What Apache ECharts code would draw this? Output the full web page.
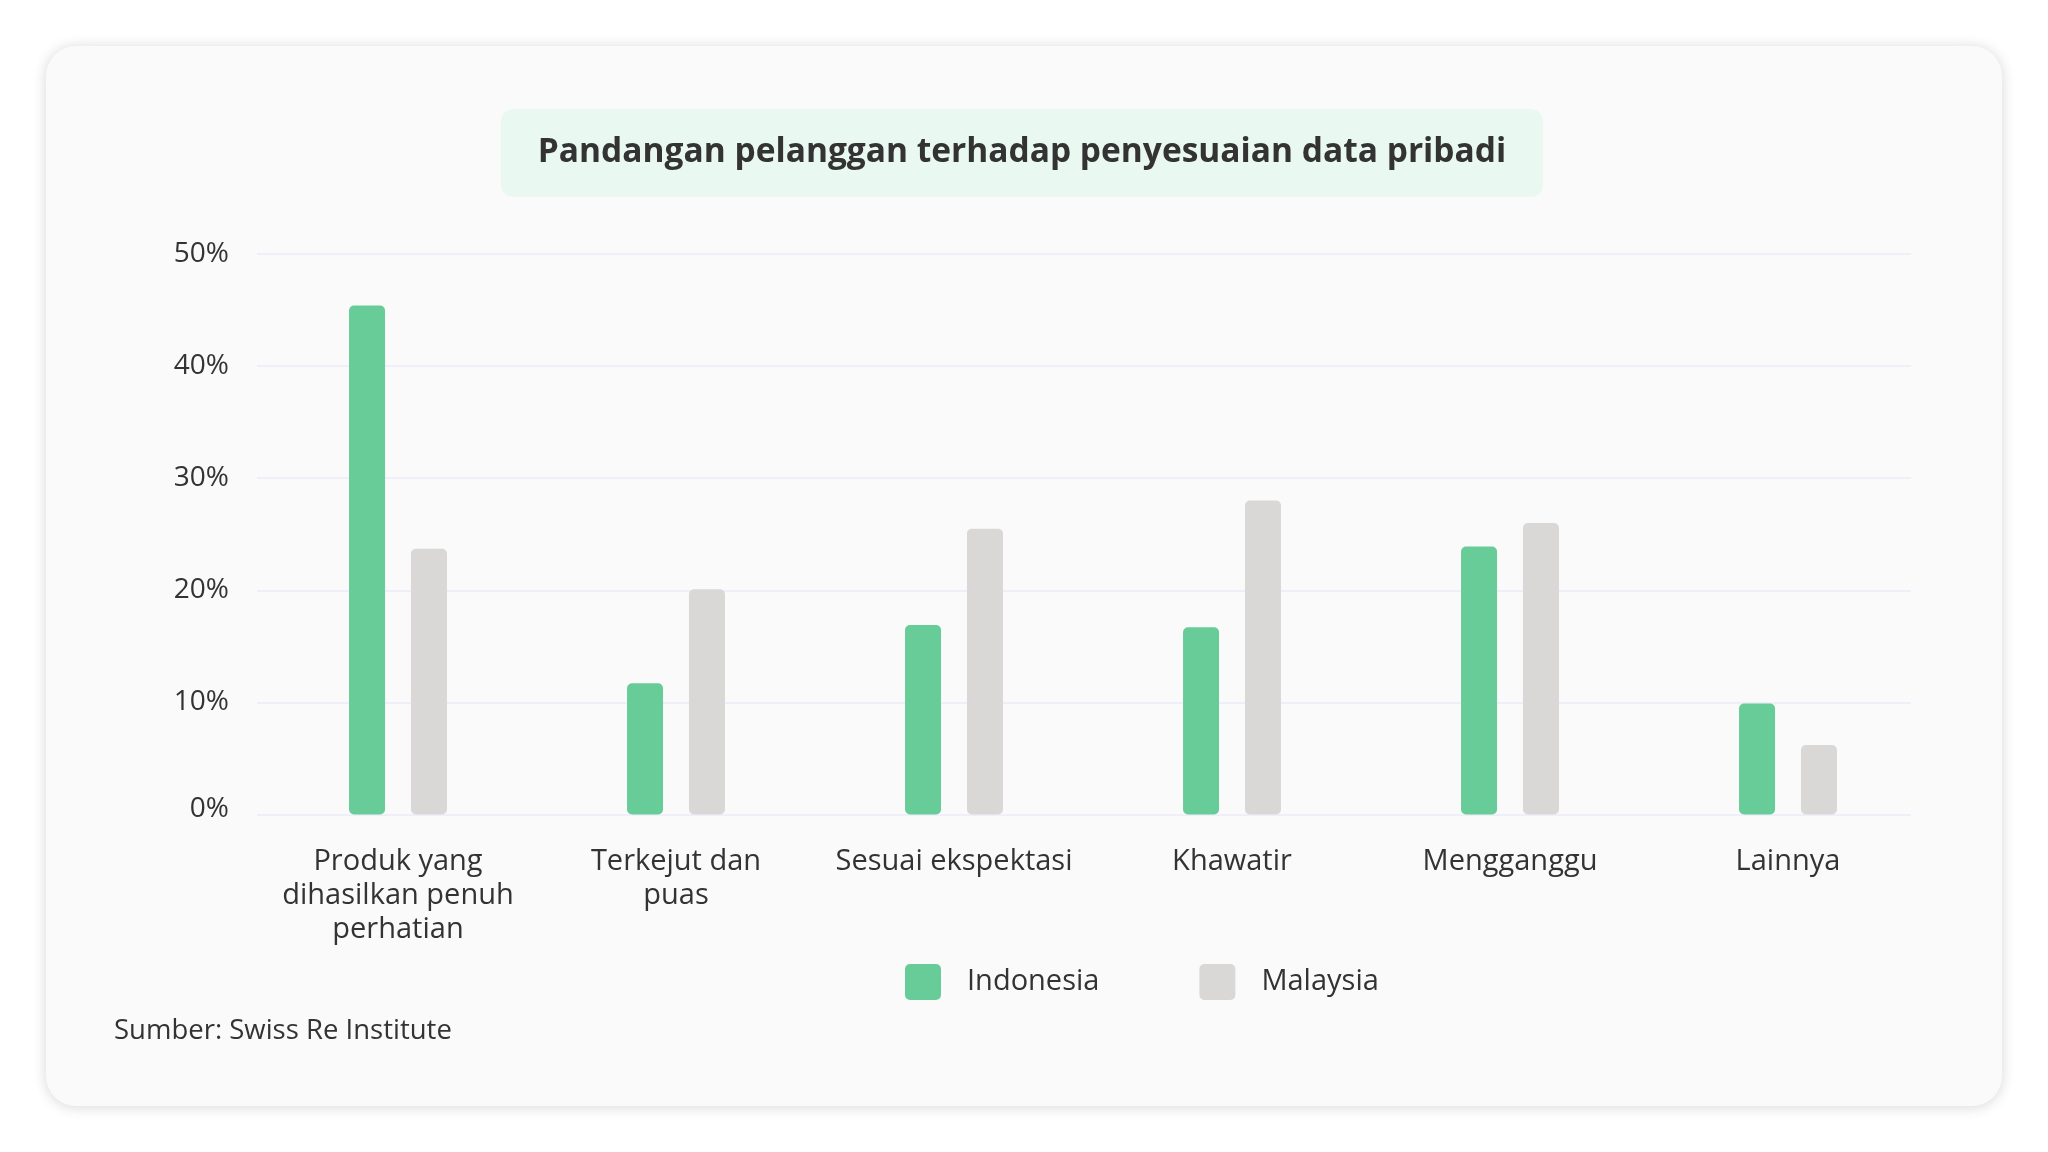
<!DOCTYPE html>
<html>
<head>
<meta charset="utf-8">
<script src="https://cdn.jsdelivr.net/npm/echarts@6/dist/echarts.min.js"></script>
<style>
  html, body { margin: 0; padding: 0; background: #ffffff; }
  #chart { width: 2048px; height: 1152px; }
</style>
</head>
<body>
<div id="chart"></div>
<script>
const titleText = 'Pandangan pelanggan terhadap penyesuaian data pribadi';
const sourceText = 'Sumber: Swiss Re Institute';
const categories = ['Produk yang\ndihasilkan penuh\nperhatian', 'Terkejut dan\npuas', 'Sesuai ekspektasi', 'Khawatir', 'Mengganggu', 'Lainnya'];
const seriesNames = ['Indonesia', 'Malaysia'];
const indonesia = [45.4, 11.7, 16.9, 16.7, 23.9, 9.9];
const malaysia = [23.7, 20.1, 25.5, 28.0, 26.0, 6.2];
const yTicks = [0, 10, 20, 30, 40, 50];

const FONT = '"Open Sans", "Noto Sans", sans-serif';
const TXT = '#333333';
const rr = 'path://M5,0H31A5,5,0,0,1,36,5V31A5,5,0,0,1,31,36H5A5,5,0,0,1,0,31V5A5,5,0,0,1,5,0Z';

const chart = echarts.init(document.getElementById('chart'), null, { renderer: 'canvas' });
const option = {
  backgroundColor: '#ffffff',
  animation: false,
  textStyle: { fontFamily: FONT },
  graphic: [
    { type: 'rect', z: -10, silent: true,
      shape: { x: 46, y: 46, width: 1956, height: 1060, r: 30 },
      style: { fill: '#fafafa', shadowBlur: 14, shadowColor: 'rgba(0,0,0,0.16)', shadowOffsetY: 1 } },
    { type: 'rect', z: -9, silent: true,
      shape: { x: 501, y: 109, width: 1042, height: 88, r: 12 },
      style: { fill: '#e9f9f2' } },
    { type: 'text', z: 10, silent: true, x: 1022, y: 152,
      style: { text: titleText, fill: TXT, font: 'bold 33.5px ' + FONT, textAlign: 'center', textVerticalAlign: 'middle' } },
    { type: 'text', z: 10, silent: true, x: 114, y: 1031,
      style: { text: sourceText, fill: TXT, font: '27.5px ' + FONT, textAlign: 'left', textVerticalAlign: 'middle' } }
  ],
  legend: {
    data: seriesNames,
    left: 900, top: 959,
    itemWidth: 36, itemHeight: 36, itemGap: 100,
    icon: rr,
    textStyle: { fontSize: 29, color: TXT, fontFamily: FONT, padding: [0, 0, 0, 21] }
  },
  grid: [
    { left: 257, right: 137, top: 254, bottom: 337.5, containLabel: false },
    { left: 259, right: 121, top: 254, bottom: 337.5, containLabel: false }
  ],
  xAxis: [
    { type: 'category', gridIndex: 0, data: categories, show: false },
    { type: 'category', gridIndex: 1, data: categories,
      axisLine: { show: false }, axisTick: { show: false },
      axisLabel: { fontSize: 29, color: TXT, fontFamily: FONT, lineHeight: 34, margin: 30, interval: 0 } }
  ],
  yAxis: [
    { type: 'value', gridIndex: 0, min: yTicks[0], max: yTicks[yTicks.length - 1], interval: 10,
      axisLine: { show: false }, axisTick: { show: false },
      splitLine: { lineStyle: { color: '#efeef9', width: 2 } },
      axisLabel: { fontSize: 28, color: TXT, fontFamily: FONT, margin: 28,
        formatter: v => v === 0 ? '{z|0%}' : v + '%',
        rich: { z: { fontSize: 28, color: TXT, fontFamily: FONT, padding: [0, 0, 10, 0] } } } },
    { type: 'value', gridIndex: 1, min: yTicks[0], max: yTicks[yTicks.length - 1], interval: 10, show: false,
      splitLine: { show: false } }
  ],
  series: [
    { name: seriesNames[0], type: 'bar', xAxisIndex: 1, yAxisIndex: 1, data: indonesia,
      barWidth: 36, barGap: '72%',
      itemStyle: { color: '#68cc98', borderRadius: 5 } },
    { name: seriesNames[1], type: 'bar', xAxisIndex: 1, yAxisIndex: 1, data: malaysia,
      barWidth: 36, barGap: '72%',
      itemStyle: { color: '#d9d8d6', borderRadius: 5 } }
  ]
};
chart.setOption(option);
</script>
</body>
</html>
